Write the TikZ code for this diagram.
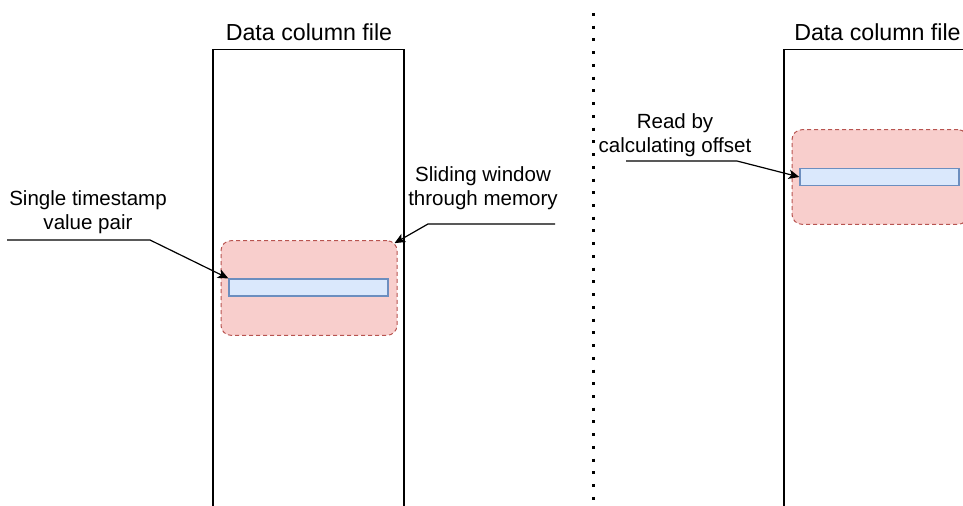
\documentclass[tikz,border=0pt]{standalone}
\usepackage{fontspec}
\setmainfont{Liberation Sans}
\usetikzlibrary{arrows.meta,positioning}

\definecolor{windowfill}{HTML}{F8CECC}
\definecolor{windowline}{HTML}{B85450}
\definecolor{entryfill}{HTML}{DAE8FC}
\definecolor{entryline}{HTML}{6C8EBF}

\begin{document}
\begin{tikzpicture}
	[ x=0.75pt, y=-0.75pt,
	  file/.style={draw,line width=0.9pt,anchor=north,minimum width=143.25pt,minimum height=375pt,inner sep=0pt},
	  window/.style={draw=windowline,fill=windowfill,line width=0.75pt,dash pattern=on 3pt off 2.25pt,rounded corners=7.5pt,minimum width=132pt,minimum height=71pt,inner sep=0pt},
	  entry/.style={draw=entryline,fill=entryfill,line width=0.9pt,minimum width=119.25pt,minimum height=12.75pt,inner sep=0pt},
	  title/.style={font=\fontsize{17.4}{20}\selectfont,inner sep=0pt},
	  key/.style={font=\fontsize{15.4}{18.4}\selectfont,align=center,inner sep=0pt},
	  pointer/.style={-{Stealth[length=8pt,width=7pt,inset=2pt]},line width=0.9pt},
	  divider/.style={line width=2.25pt,dash pattern=on 2.25pt off 7.3pt} ]
	
	\useasboundingbox (0,0) rectangle (963,506);
	\clip (0,0) rectangle (963,506);
	
	% left file, sliding window
	\node[file] (file1) at (308.5,49) {};
	\node[title] (title1) at (309,32) {Data column file};
	\node[window] (win1) at (309,288) {};
	\node[entry] (bar1) at (308.5,287.5) {};
	
	\node[key] (pair) at (88,212) {Single timestamp\\value pair};
	\node[key] (slide) at (483,188) {Sliding window\\through memory};
	\coordinate (pairend) at (7,240);
	\coordinate (pairbend) at (150,240);
	\coordinate (slideend) at (555,224);
	\coordinate (slidebend) at (428,224);
	
	\draw[pointer] (pairend) -- (pairbend) -- (bar1.north west);
	\draw[pointer] (slideend) -- (slidebend) -- ([xshift=-2.25pt,yshift=-2.25pt]win1.north east);
	
	% separator
	\draw[divider] (593,13) -- (593,520);
	
	% right file, direct read
	\node[file] (file2) at (879.5,49) {};
	\node[title] (title2) at (877.5,32) {Data column file};
	\node[window] (win2) at (880,177) {};
	\node[entry] (bar2) at (879.5,177) {};
	
	\node[key] (offset) at (675,135) {Read by\\calculating offset};
	\coordinate (offsetend) at (626,161);
	\coordinate (offsetbend) at (737,161);
	
	\draw[pointer] (offsetend) -- (offsetbend) -- (bar2.west);
	
\end{tikzpicture}
\end{document}
